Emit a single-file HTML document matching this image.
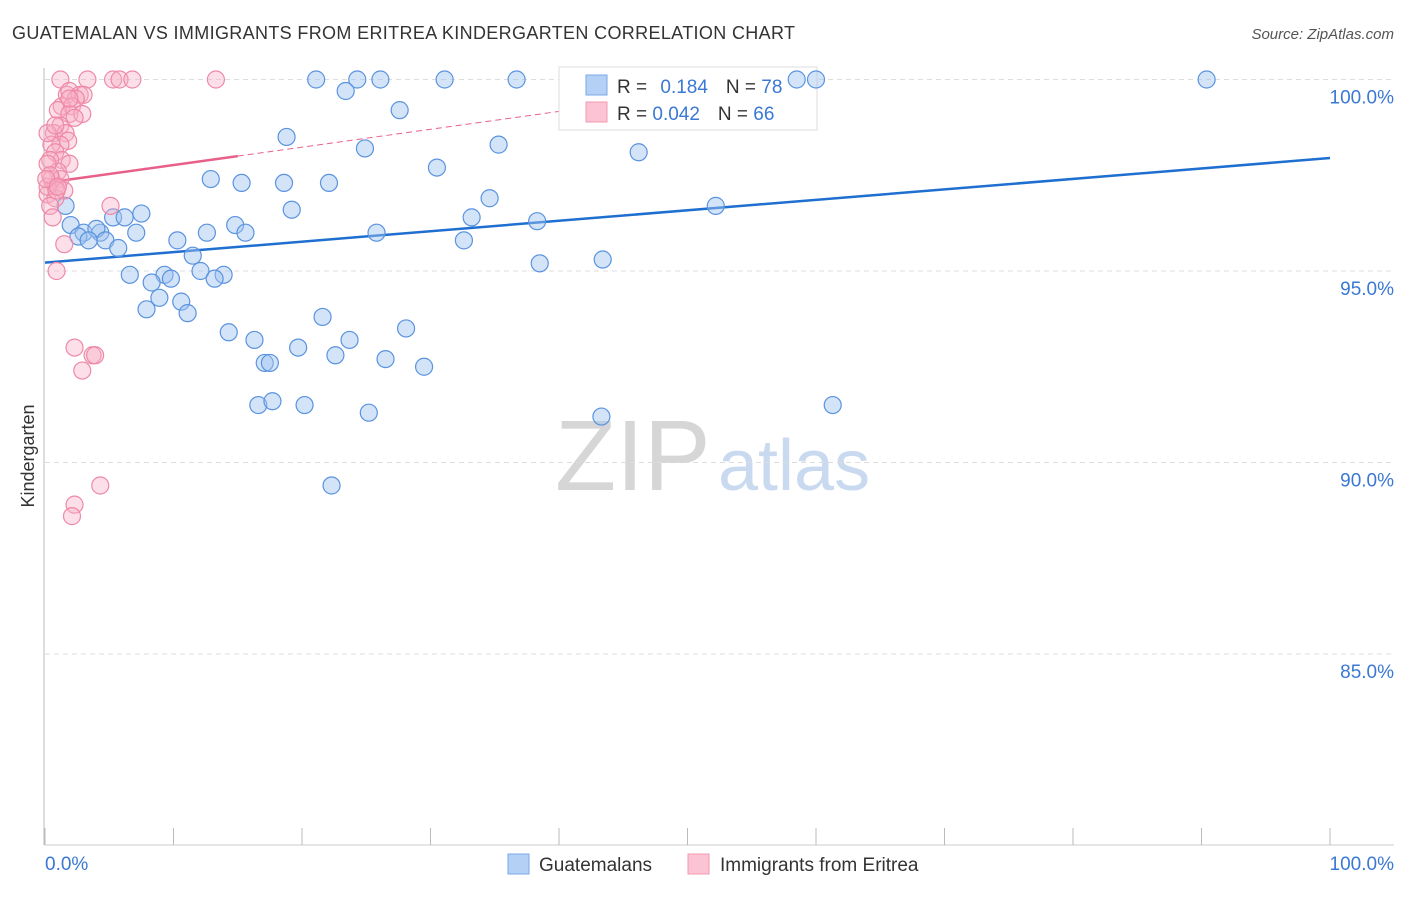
<!DOCTYPE html>
<html><head><meta charset="utf-8"><style>
body{margin:0;background:#fff;font-family:"Liberation Sans",sans-serif;}
svg text{font-family:"Liberation Sans",sans-serif;}
</style></head><body>
<svg width="1406" height="892">
<text x="12" y="39" font-size="18" fill="#333" textLength="783">GUATEMALAN VS IMMIGRANTS FROM ERITREA KINDERGARTEN CORRELATION CHART</text>
<text x="1394" y="39" font-size="15" fill="#555" text-anchor="end" font-style="italic">Source: ZipAtlas.com</text>
<text x="34" y="456" font-size="18" fill="#333" transform="rotate(-90 34 456)" text-anchor="middle">Kindergarten</text>
<text x="555" y="490" font-size="100" fill="#d6d6d6" font-family="Liberation Serif">ZIP</text>
<text x="718" y="490" font-size="72" fill="#c9daf0">atlas</text>
<g id="grid"></g>
<g id="lines"></g>
<rect x="559" y="67" width="258" height="63" fill="#fff" stroke="#ddd"/>
<rect x="586" y="75" width="21" height="20" fill="#b5d0f5" stroke="#7aa7e8"/>
<rect x="586" y="102" width="21" height="20" fill="#fbc3d3" stroke="#f09ab3"/>
<text x="617" y="93" font-size="19" fill="#333">R = <tspan fill="#3a78d4" dx="8">0.184</tspan><tspan fill="#333" dx="18">N = </tspan><tspan fill="#3a78d4">78</tspan></text>
<text x="617" y="120" font-size="19" fill="#333">R = <tspan fill="#3a78d4">0.042</tspan><tspan fill="#333" dx="18">N = </tspan><tspan fill="#3a78d4">66</tspan></text>
<g id="pts"></g>
<rect x="508" y="854" width="21" height="20" fill="#b5d0f5" stroke="#7aa7e8"/>
<text x="539" y="871" font-size="19" fill="#333">Guatemalans</text>
<rect x="688" y="854" width="21" height="20" fill="#fbc3d3" stroke="#f09ab3"/>
<text x="720" y="871" font-size="19" fill="#333">Immigrants from Eritrea</text>
<text x="45" y="870" font-size="19" fill="#3a78d4">0.0%</text>
<text x="1394" y="870" font-size="19" fill="#3a78d4" text-anchor="end">100.0%</text>
</svg>
<script>
const yTicks=[100,95,90,85];
const yTickLabels=["100.0%","95.0%","90.0%","85.0%"];
const blueX=[21.1,24.3,26.1,31.1,36.7,58.5,60,90.4,23.4,27.6,18.8,24.9,35.3,46.2,30.5,12.9,15.3,18.6,22.1,34.6,1.6,19.2,33.2,5.3,7.5,6.2,38.3,52.2,2,3,4.3,2.6,4,3.4,7.1,12.6,14.8,15.6,25.8,4.7,10.3,32.6,5.7,11.5,38.5,43.4,12.1,6.6,9.3,9.8,13.9,8.3,13.2,8.9,10.6,7.9,11.1,21.6,14.3,28.1,16.3,23.7,19.7,22.6,26.5,17.1,17.5,29.5,16.6,17.7,20.2,25.2,43.3,61.3,22.3];
const blueY=[100,100,100,100,100,100,100,100,99.7,99.2,98.5,98.2,98.3,98.1,97.7,97.4,97.3,97.3,97.3,96.9,96.7,96.6,96.4,96.4,96.5,96.4,96.3,96.7,96.2,96,96,95.9,96.1,95.8,96,96,96.2,96,96,95.8,95.8,95.8,95.6,95.4,95.2,95.3,95,94.9,94.9,94.8,94.9,94.7,94.8,94.3,94.2,94,93.9,93.8,93.4,93.5,93.2,93.2,93,92.8,92.7,92.6,92.6,92.5,91.5,91.6,91.5,91.3,91.2,91.5,89.4];
const pinkX=[1.2,3.3,5.3,5.8,6.8,13.3,1.7,1.9,2.7,3,2.4,1.3,2.1,1,1.9,2.9,1.2,0.7,1.6,1.8,1.2,0.5,0.8,1.3,1.9,0.4,1,0.2,0.5,1.2,0.8,0.2,1.5,0.8,0.4,0.6,0.2,0.9,5.1,1.5,0.9,2.3,3.7,3.9,2.9,4.3,2.3,2.1,0.4,0.1,1,0.2,0.8,1.9,2.3];
const pinkY=[100,100,100,100,100,100,99.6,99.7,99.6,99.6,99.5,99.3,99.3,99.2,99.1,99.1,98.8,98.6,98.6,98.4,98.3,98.3,98.1,97.9,97.8,97.9,97.6,97.8,97.4,97.4,97.2,97,97.1,96.9,96.7,96.4,97.2,97.1,96.7,95.7,95,93,92.8,92.8,92.4,89.4,88.9,88.6,97.5,97.4,97.2,98.6,98.8,99.5,99];
const blueTrend=[95.22,97.95];
const pinkTrend=[97.3,98.0];
const NS="http://www.w3.org/2000/svg";
const X0=45,X1=1330,Y100=79.5,PPU=38.3;
function sx(v){return X0+(X1-X0)*v/100;}
function sy(v){return Y100+(100-v)*PPU;}
function mk(tag,attrs,parent){const e=document.createElementNS(NS,tag);for(const k in attrs)e.setAttribute(k,attrs[k]);document.getElementById(parent).appendChild(e);return e;}
yTicks.forEach((t,i)=>{
 const l=mk('line',{x1:45,x2:1394,y1:sy(t),y2:sy(t),stroke:'#ddd','stroke-dasharray':'5,4'},'grid');
 
 
 const tx=mk('text',{x:1394,y:sy(t)+24,'font-size':19,fill:'#3a78d4','text-anchor':'end'},'grid');
 tx.textContent=yTickLabels[i];
 
 
});
let ax=mk('line',{x1:44,x2:44,y1:68,y2:845,stroke:'#bbb'},'grid');


ax=mk('line',{x1:44,x2:1394,y1:845,y2:845,stroke:'#ccc'},'grid');


for(let i=0;i<=10;i++){const t=mk('line',{x1:sx(i*10),x2:sx(i*10),y1:828,y2:845,stroke:'#bbb'},'grid');
 
 }
blueX.forEach((v,i)=>{const c=mk('circle',{cx:sx(v),cy:sy(blueY[i]),r:8.5,fill:'rgba(160,196,240,0.45)',stroke:'#5a93df','stroke-width':1.2},'pts');
 
 });
pinkX.forEach((v,i)=>{const c=mk('circle',{cx:sx(v),cy:sy(pinkY[i]),r:8.5,fill:'rgba(248,175,198,0.4)',stroke:'#ee89a8','stroke-width':1.2},'pts');
 
 });
let l=mk('line',{x1:sx(0),y1:sy(blueTrend[0]),x2:sx(100),y2:sy(blueTrend[1]),stroke:'#1f6fd1','stroke-width':2.5},'lines');


const pk=x=>pinkTrend[0]+(pinkTrend[1]-pinkTrend[0])*x/15;
l=mk('line',{x1:sx(0),y1:sy(pk(0)),x2:sx(15),y2:sy(pk(15)),stroke:'#e8608a','stroke-width':2.5},'lines');


l=mk('line',{x1:sx(15),y1:sy(pk(15)),x2:sx(42),y2:sy(pk(42)),stroke:'#e8608a','stroke-width':1,'stroke-dasharray':'6,4'},'lines');


</script>
</body></html>
